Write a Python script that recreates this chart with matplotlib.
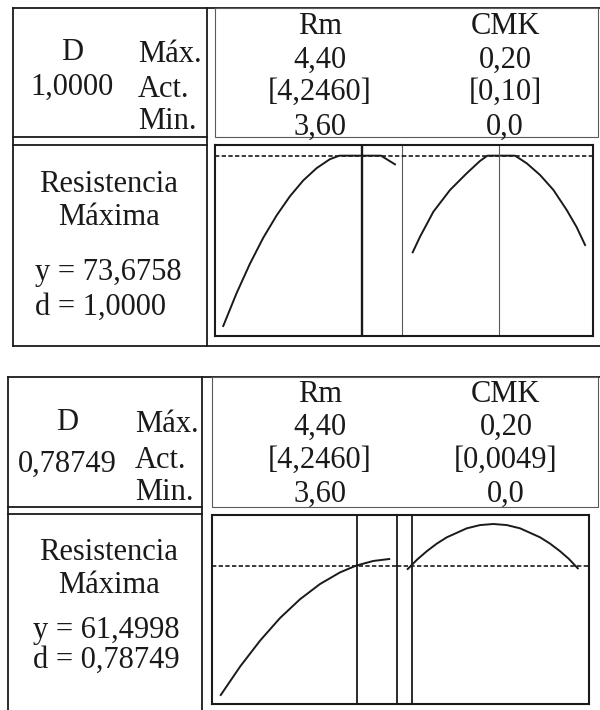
"""
Response optimizer plot for the maximum strength (two settings, stacked).
Layout is worked out in pixels on a 600 x 710 canvas.
"""

import matplotlib
matplotlib.use('Agg')
import matplotlib.pyplot as plt

plt.rcParams['font.family'] = ['Liberation Serif', 'DejaVu Serif']

# ---- data ---------------------------------------------------------------
response_name = ["Resistencia", "Máxima"]
factors = ["Rm", "CMK"]
factor_low = [3.60, 0.0]
factor_high = [4.40, 0.20]
high_labels = ["4,40", "0,20"]
low_labels = ["3,60", "0,0"]

# setting 1
p1_setting = [4.2460, 0.10]
p1_setting_labels = ["[4,2460]", "[0,10]"]
p1_D = "1,0000"
p1_y = 73.6758
p1_y_label = "y = 73,6758"
p1_d_label = "d = 1,0000"
p1_rm_x = [3.600, 3.662, 3.724, 3.786, 3.849, 3.911, 3.973, 4.035, 4.097, 4.141, 4.335, 4.400]
p1_rm_y = [50.86, 55.25, 59.18, 62.66, 65.69, 68.25, 70.37, 72.01, 73.21, 73.68, 73.68, 72.52]
p1_cmk_x = [0.000, 0.0085, 0.0240, 0.0433, 0.0627, 0.0781, 0.0867,
            0.1188, 0.1323, 0.1478, 0.1633, 0.1787, 0.1903, 0.2000]
p1_cmk_y = [60.73, 62.82, 66.17, 69.08, 71.32, 72.97, 73.68,
            73.68, 72.66, 71.09, 69.08, 66.40, 64.09, 61.71]

# setting 2
p2_setting = [4.2460, 0.0049]
p2_setting_labels = ["[4,2460]", "[0,0049]"]
p2_D = "0,78749"
p2_y = 61.4998
p2_y_label = "y = 61,4998"
p2_d_label = "d = 0,78749"
p2_rm_x = [3.600, 3.692, 3.787, 3.881, 3.976, 4.071, 4.166, 4.242, 4.324, 4.400]
p2_rm_y = [23.99, 32.25, 39.78, 46.29, 51.74, 56.16, 59.54, 61.50, 62.86, 63.43]
p2_cmk_x = [0.000, 0.0112, 0.0224, 0.0341, 0.0459, 0.0694, 0.0851, 0.1008,
            0.1165, 0.1322, 0.1557, 0.1675, 0.1792, 0.1894, 0.2000]
p2_cmk_y = [60.53, 63.29, 65.68, 67.87, 69.71, 72.32, 73.27, 73.58,
            73.27, 72.32, 69.71, 67.87, 65.68, 63.49, 60.73]

# ---- layout (pixels) ----------------------------------------------------
W, H = 600, 710
DARK = '#1a1a1a'
GREY = '#5a5a5a'
FS = 22

fig = plt.figure(figsize=(W / 100, H / 100), dpi=100)
fig.patch.set_facecolor('white')
ov = fig.add_axes([0, 0, 1, 1])
ov.set_xlim(0, W)
ov.set_ylim(H, 0)
ov.axis('off')


def seg(x0, y0, x1, y1, color=DARK, lw=1.3):
    ov.plot([x0, x1], [y0, y1], color=color, lw=lw, solid_capstyle='projecting')


def rect(x0, y0, x1, y1, color=DARK, lw=1.3):
    ov.plot([x0, x1, x1, x0, x0], [y0, y0, y1, y1, y0], color=color, lw=lw,
            solid_joinstyle='miter')


def txt(x, y, s, ha='center'):
    ov.text(x, y, s, ha=ha, va='baseline', fontsize=FS, color=DARK)


def px_axes(x0, y0, x1, y1):
    return fig.add_axes([x0 / W, 1 - y1 / H, (x1 - x0) / W, (y1 - y0) / H])


def draw_panel(L, setting, setting_labels, D, ycur, ylab, dlab, curves, ylim):
    # left column frames
    seg(L['lx0'], L['top'], W, L['top'])
    seg(L['lx0'], L['top'], L['lx0'], L['bot'])
    seg(L['lx1'], L['top'], L['lx1'], L['bot'])
    seg(L['lx0'], L['hb'], L['lx1'], L['hb'])
    seg(L['lx0'], L['lt'], L['lx1'], L['lt'])
    if L['bot'] < H:
        seg(L['lx0'], L['bot'], W, L['bot'])
    # factor header box
    rect(L['px0'], L['top'], W - 2, L['hb'], color=GREY, lw=0.8)

    # header texts
    txt(L['dx'], L['rows'][0], "D")
    txt(L['dx'], L['rows'][1], D)
    for s, yb in zip(["Máx.", "Act.", "Min."], L['lab_rows']):
        txt(L['labx'], yb, s, ha='left')
    for i in range(2):
        cx = L['fx'][i]
        for s, yb in zip([factors[i], high_labels[i], setting_labels[i], low_labels[i]],
                         L['frows']):
            txt(cx, yb, s)

    # response texts
    txt(L['rx'], L['rrows'][0], response_name[0])
    txt(L['rx'], L['rrows'][1], response_name[1])
    txt(L['yx'], L['rrows'][2], ylab, ha='left')
    txt(L['yx'], L['rrows'][3], dlab, ha='left')

    # response curves, one column per factor
    cols = [(L['px0'], L['sep']), (L['sep'], L['px1'])]
    for i, (cx0, cx1) in enumerate(cols):
        ax = px_axes(cx0, L['pt'], cx1, L['pb'])
        ax.patch.set_alpha(0)
        lo, hi = factor_low[i], factor_high[i]
        pl, pr = L['pads'][i]
        span = hi - lo
        ax.set_xlim(lo - pl * span, hi + pr * span)
        ax.set_ylim(*ylim)
        ax.set_xticks([])
        ax.set_yticks([])
        for side in ['top', 'bottom', 'left', 'right']:
            ax.spines[side].set_color(DARK)
            ax.spines[side].set_linewidth(1.5)
        if i == 0:
            ax.spines['right'].set_color(L['sep_color'])
            ax.spines['right'].set_linewidth(L['sep_lw'])
        else:
            ax.spines['left'].set_visible(False)
        xs, ys = curves[i]
        ax.plot(xs, ys, color=DARK, lw=1.4, clip_on=False, solid_joinstyle='round')
        ax.axhline(ycur, color=DARK, lw=1.2, linestyle=(0, (2.6, 1.4)))
        ax.axvline(setting[i], color=L['cur_color'][i], lw=L['cur_lw'][i])


panel1 = dict(top=8, bot=346, lx0=13, lx1=207, hb=137, lt=145,
              px0=215, px1=593, sep=402, pt=145, pb=336,
              pads=[(0.048, 0.041), (0.062, 0.046)],
              sep_color=GREY, sep_lw=0.8,
              cur_color=[DARK, GREY], cur_lw=[1.7, 0.8],
              dx=72, rows=[60, 95], labx=138, lab_rows=[61.7, 96.7, 129.3],
              fx=[320, 505], frows=[34.3, 68, 100, 135],
              rx=109, yx=35, rrows=[191.7, 225, 280, 315])

panel2 = dict(top=377, bot=H + 5, lx0=8, lx1=202, hb=507, lt=514,
              px0=212, px1=589, sep=397, pt=515, pb=704,
              pads=[(0.052, 0.046), (0.063, 0.066)],
              sep_color=DARK, sep_lw=1.3,
              cur_color=[DARK, DARK], cur_lw=[1.3, 1.3],
              dx=67, rows=[430, 471.7], labx=135, lab_rows=[431.7, 468, 500],
              fx=[320, 506], frows=[401.7, 435, 468, 501.7],
              rx=109, yx=33, rrows=[560, 593, 638, 668])

draw_panel(panel1, p1_setting, p1_setting_labels, p1_D, p1_y, p1_y_label, p1_d_label,
           [(p1_rm_x, p1_rm_y), (p1_cmk_x, p1_cmk_y)], (49.52, 75.11))
draw_panel(panel2, p2_setting, p2_setting_labels, p2_D, p2_y, p2_y_label, p2_d_label,
           [(p2_rm_x, p2_rm_y), (p2_cmk_x, p2_cmk_y)], (21.38, 76.19))

fig.savefig('out.png', dpi=100, facecolor='white')
